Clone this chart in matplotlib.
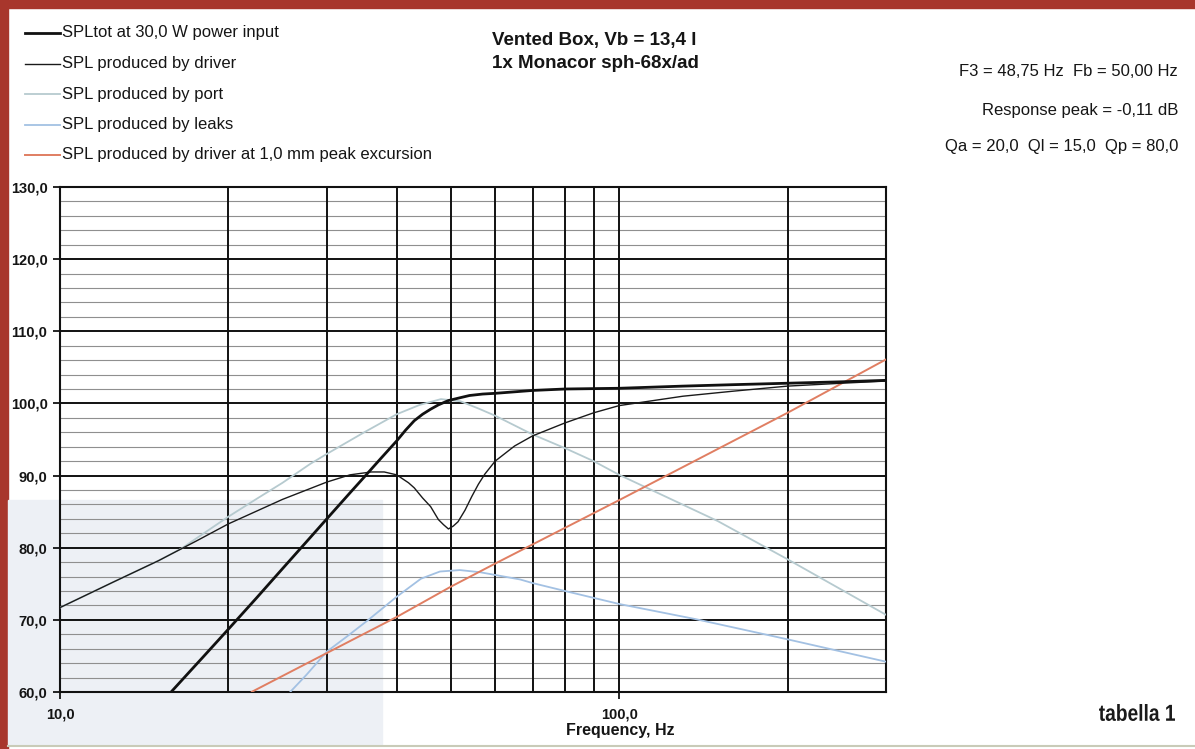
import numpy as np
import matplotlib
matplotlib.use('Agg')
import matplotlib.pyplot as plt
from matplotlib.lines import Line2D
from matplotlib.patches import Rectangle, PathPatch
from matplotlib.textpath import TextPath
from matplotlib.font_manager import FontProperties
from matplotlib.transforms import Affine2D
from matplotlib.ticker import NullLocator

plt.rcParams['font.family'] = ['Liberation Sans', 'DejaVu Sans']

W, H = 1195, 749

# total response at 30 W
tot_freq = [15.8, 17, 18, 20, 22.5, 25, 27.5, 30, 33, 35, 37.5, 40, 41.5, 43, 44.5,
            46, 47.5, 49.5, 52, 54, 57, 60, 70, 80, 100, 130, 160, 200, 250, 300]
tot_spl = [60.0, 62.7, 64.8, 68.7, 73.1, 77.1, 80.7, 84.0, 87.6, 89.8, 92.4, 94.8,
           96.3, 97.6, 98.5, 99.2, 99.8, 100.4, 100.8, 101.1, 101.3, 101.4, 101.8,
           102.0, 102.1, 102.4, 102.6, 102.8, 103.0, 103.2]

# driver alone
drv_freq = [10, 12.5, 15, 17.5, 20, 25, 30, 33, 36, 38, 40, 42, 43, 44.5, 46, 47.5,
            48.5, 49.5, 50.5, 51.5, 53, 54.5, 56, 57.5, 60, 65, 70, 80, 90, 100,
            130, 160, 200, 250, 300]
drv_spl = [71.7, 75.3, 78.2, 80.9, 83.3, 86.7, 89.1, 90.1, 90.5, 90.5, 90.1, 89.0,
           88.3, 86.9, 85.7, 83.9, 83.2, 82.6, 83.0, 83.6, 85.2, 87.1, 88.8, 90.2,
           92.0, 94.1, 95.5, 97.3, 98.7, 99.7, 101.0, 101.7, 102.4, 102.8, 103.1]

# port
port_freq = [10, 12.5, 15, 16.5, 18, 20, 22.5, 25, 28, 30, 35, 40, 44, 48, 52, 56,
             60, 70, 80, 90, 100, 150, 200, 300]
port_spl = [71.7, 75.3, 78.2, 79.9, 81.9, 84.3, 86.8, 89.0, 91.6, 93.0, 96.0, 98.5,
            99.8, 100.6, 100.3, 99.3, 98.3, 95.7, 93.8, 92.0, 90.1, 83.7, 78.4, 70.7]

# leaks
leak_freq = [25.8, 27.6, 30, 32.6, 35.6, 40, 44.2, 47.8, 51.9, 56.4, 66.5, 70, 80,
             100, 137, 200, 300]
leak_spl = [60.0, 62.4, 65.6, 67.7, 70.0, 73.2, 75.7, 76.7, 76.9, 76.6, 75.6, 75.1,
            74.0, 72.2, 70.1, 67.3, 64.2]

# driver at 1,0 mm peak excursion
exc_freq = [22.0, 30, 40, 50, 60, 100, 200, 300]
exc_spl = [60.0, 65.4, 70.4, 74.6, 77.8, 86.6, 98.7, 106.1]

grid_freq = [10, 20, 30, 40, 50, 60, 70, 80, 90, 100, 200, 300]
x_labeled = [10, 100]
y_major = [60, 70, 80, 90, 100, 110, 120, 130]
y_minor = [v for v in range(62, 130, 2) if v % 10]

legend_labels = ['SPLtot at 30,0 W power input', 'SPL produced by driver',
                 'SPL produced by port', 'SPL produced by leaks',
                 'SPL produced by driver at 1,0 mm peak excursion']

styles = [dict(color='#111111', lw=2.0),
          dict(color='#1a1a1a', lw=1.0),
          dict(color='#b6cacf', lw=1.3),
          dict(color='#a3c1e3', lw=1.3),
          dict(color='#e07e62', lw=1.4)]


def fx(x):
    return x / W


def fy(y):
    return 1 - y / H


fig = plt.figure(figsize=(W / 100, H / 100), dpi=100)
fig.patch.set_facecolor('white')

# page background bits: red border and pale print behind the chart
fig.add_artist(Rectangle((0, fy(8)), 1, fy(0) - fy(8), transform=fig.transFigure,
                         color='#a8362c', zorder=0))
fig.add_artist(Rectangle((0, 0), fx(8), 1, transform=fig.transFigure,
                         color='#a8362c', zorder=0))
fig.add_artist(Rectangle((fx(8), fy(745)), fx(382) - fx(8), fy(500) - fy(745),
                         transform=fig.transFigure, color='#edf0f5', zorder=0))
fig.add_artist(Line2D([fx(8), 1], [fy(746), fy(746)], transform=fig.transFigure,
                      color='#c9cbb8', lw=1.5, zorder=0))

ax = fig.add_axes([fx(60), fy(692), fx(886) - fx(60), fy(187) - fy(692)])
ax.set_facecolor('none')
ax.set_xscale('log')
ax.set_xlim(10, 300)
ax.set_ylim(60, 130)

for v in y_minor:
    ax.axhline(v, color='#8f8f8f', lw=0.8, zorder=1)
for v in y_major:
    ax.axhline(v, color='#111111', lw=1.4, zorder=2)
for f in grid_freq:
    ax.axvline(f, color='#111111', lw=1.4, zorder=2)

series = [(tot_freq, tot_spl), (drv_freq, drv_spl), (port_freq, port_spl),
          (leak_freq, leak_spl), (exc_freq, exc_spl)]
for i in [2, 3, 4, 1, 0]:
    f, s = series[i]
    ax.plot(f, s, zorder=3 + (i < 2), solid_capstyle='round',
            solid_joinstyle='round', **styles[i])

for sp in ax.spines.values():
    sp.set_color('#111111')
    sp.set_linewidth(1.5)

ax.set_yticks(y_major)
ax.set_yticklabels([f'{v},0' for v in y_major])
ax.yaxis.set_minor_locator(NullLocator())
ax.tick_params(axis='y', direction='out', length=5, width=1.2, pad=4,
               labelsize=10.5, labelcolor='#151515')
ax.set_xticks(x_labeled)
ax.set_xticklabels([f'{v},0' for v in x_labeled])
ax.xaxis.set_minor_locator(NullLocator())
ax.tick_params(axis='x', direction='out', length=5, width=1.2, pad=6,
               labelsize=10.5, labelcolor='#151515')
for lab in ax.get_yticklabels() + ax.get_xticklabels():
    lab.set_fontweight('bold')

fig.text(fx(620), fy(731), 'Frequency, Hz', ha='center', va='center', fontsize=11.5,
         fontweight='bold', color='#151515')

# legend in the top left corner
for i, lab in enumerate(legend_labels):
    y = fy(33 + i * 30.5)
    fig.add_artist(Line2D([fx(25), fx(60)], [y, y], transform=fig.transFigure,
                          **styles[i]))
    fig.text(fx(62), y, lab, ha='left', va='center', fontsize=12, color='#151515')

fig.text(fx(492), fy(40), 'Vented Box, Vb = 13,4 l', ha='left', va='center',
         fontsize=13.5, fontweight='bold', color='#151515')
fig.text(fx(492), fy(64), '1x Monacor sph-68x/ad', ha='left', va='center',
         fontsize=13.5, fontweight='bold', color='#151515')

info = ['F3 = 48,75 Hz  Fb = 50,00 Hz', 'Response peak = -0,11 dB',
        'Qa = 20,0  Ql = 15,0  Qp = 80,0']
for txt, y in zip(info, [72, 110, 146]):
    fig.text(fx(1178), fy(y), txt, ha='right', va='center', fontsize=12,
             color='#151515')

# condensed caption, squeezed from a bold outline
tp = TextPath((0, 0), 'tabella 1', size=20,
              prop=FontProperties(family='Liberation Sans', weight='bold'))
bb = tp.get_extents()
cap_w, cap_h = 76, 17
trans = (Affine2D().translate(-bb.x0, -bb.y0)
         .scale(cap_w / bb.width / W, cap_h / bb.height / H)
         .translate(fx(1175 - cap_w), fy(721)) + fig.transFigure)
fig.add_artist(PathPatch(tp, transform=trans, color='#1a1a1a', lw=0))

fig.savefig('out.png', dpi=100)
